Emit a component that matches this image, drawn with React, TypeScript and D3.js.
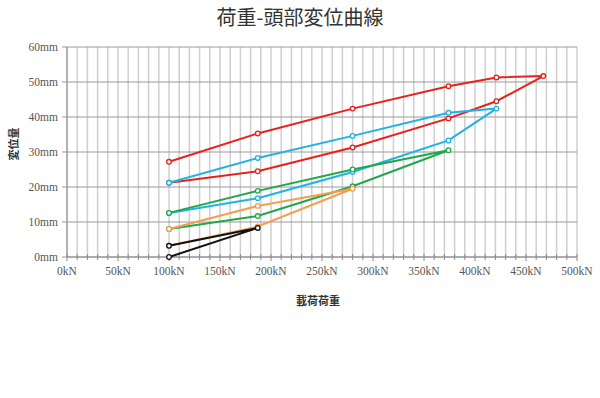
import * as React from 'react'
import * as d3 from 'd3'

// load (kN) / head displacement (mm) per loading cycle
const blackLoad = [100, 187, 100]
const blackDisp = [0, 8.3, 3.2]
const orangeLoad = [100, 187, 280, 187, 100]
const orangeDisp = [3.2, 8.7, 19.5, 14.6, 8.0]
const greenLoad = [100, 187, 280, 374, 280, 187, 100]
const greenDisp = [8.0, 11.7, 20.2, 30.5, 25.0, 18.9, 12.6]
const cyanLoad = [100, 187, 280, 374, 421, 374, 280, 187, 100]
const cyanDisp = [12.6, 16.8, 24.3, 33.3, 42.4, 41.2, 34.6, 28.3, 21.2]
const redLoad = [100, 187, 280, 374, 421, 467, 421, 374, 280, 187, 100]
const redDisp = [21.2, 24.5, 31.3, 39.6, 44.5, 51.7, 51.3, 48.8, 42.4, 35.3, 27.2]

const xTicks = [0, 50, 100, 150, 200, 250, 300, 350, 400, 450, 500]
const yTicks = [0, 10, 20, 30, 40, 50, 60]

const series = [
  {load: redLoad, disp: redDisp, color: '#e8211f'},
  {load: cyanLoad, disp: cyanDisp, color: '#1fb2e6'},
  {load: greenLoad, disp: greenDisp, color: '#1fa84a'},
  {load: orangeLoad, disp: orangeDisp, color: '#f2a050'},
  {load: blackLoad, disp: blackDisp, color: '#111111'},
]

const W = 600
const H = 398
const left = 67
const right = 577
const top = 47
const bottom = 257

const App = () => {
  const x = d3.scaleLinear().domain([0, 500]).range([left, right])
  const y = d3.scaleLinear().domain([0, 60]).range([bottom, top])
  const minor = d3.range(0, 501, 10)

  const line = d3.line<[number, number]>()
    .x(d => x(d[0]))
    .y(d => y(d[1]))

  const tickFont = '"Liberation Serif", "DejaVu Serif", serif'
  const cjkFont = '"Noto Sans CJK JP", sans-serif'

  return (
    <svg width={W} height={H} style={{position: 'absolute', left: 0, top: 0, background: '#fff'}}>
      <text x={300} y={25} textAnchor="middle" fontFamily={cjkFont} fontSize={20} fill="#333">
        荷重-頭部変位曲線
      </text>

      {/* vertical minor grid */}
      {minor.map(v => (
        <line key={'vx' + v} x1={x(v)} x2={x(v)} y1={top} y2={bottom} stroke="#cfcfcf" strokeWidth={1.5} />
      ))}
      {/* horizontal grid */}
      {yTicks.map(v => (
        <line key={'hy' + v} x1={left - 5} x2={right} y1={y(v)} y2={y(v)} stroke="#9a9a9a" strokeWidth={1} />
      ))}
      {/* axes */}
      <line x1={left} x2={left} y1={top} y2={bottom} stroke="#8a8a8a" strokeWidth={1} />
      <line x1={left} x2={right} y1={bottom} y2={bottom} stroke="#8a8a8a" strokeWidth={1} />
      {minor.map(v => (
        <line key={'tx' + v} x1={x(v)} x2={x(v)} y1={bottom - 3} y2={bottom + (v % 50 === 0 ? 4 : 3)} stroke="#8a8a8a" strokeWidth={1} />
      ))}

      {yTicks.map(v => (
        <text key={'yl' + v} x={left - 9} y={y(v) + 4} textAnchor="end" fontFamily={tickFont} fontSize={11.5} fill="#555">
          {v}mm
        </text>
      ))}
      {xTicks.map(v => (
        <text key={'xl' + v} x={x(v)} y={bottom + 18} textAnchor="middle" fontFamily={tickFont} fontSize={11.5} fill="#555">
          {v}kN
        </text>
      ))}

      <text x={318} y={305} textAnchor="middle" fontFamily={cjkFont} fontSize={11} fontWeight={700} fill="#333">
        載荷荷重
      </text>
      <text transform={`translate(18, ${(top + bottom) / 2 - 8}) rotate(-90)`} textAnchor="middle" fontFamily={cjkFont} fontSize={11} fontWeight={700} fill="#333">
        変位量
      </text>

      {series.map((s, i) => {
        const pts: [number, number][] = s.load.map((l, j) => [l, s.disp[j]])
        return (
          <g key={'s' + i}>
            <path d={line(pts) || ''} fill="none" stroke={s.color} strokeWidth={2} />
            {pts.map((p, j) => (
              <circle key={j} cx={x(p[0])} cy={y(p[1])} r={2.3} fill="#fff" stroke={s.color} strokeWidth={1.3} />
            ))}
          </g>
        )
      })}
    </svg>
  )
}

export default App
